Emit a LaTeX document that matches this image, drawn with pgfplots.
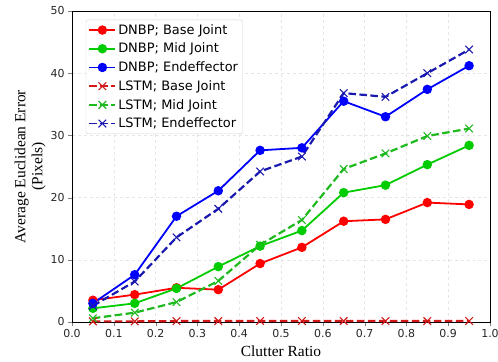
\documentclass[border=0pt]{standalone}
\usepackage{pgfplots}
\pgfplotsset{compat=1.18}
\usetikzlibrary{calc}
\usepackage{fontspec}
\setmainfont{Liberation Serif}
\newfontfamily\dejavu{DejaVu Sans}
\definecolor{dgreen}{RGB}{0,204,0}
\definecolor{lred}{RGB}{210,25,25}
\definecolor{lgreen}{RGB}{30,185,30}
\definecolor{lblue}{RGB}{25,25,175}
\pgfdeclareplotmark{thinx}{%
  \pgfsetlinewidth{1.1pt}\pgfsetdash{}{0pt}%
  \pgfpathmoveto{\pgfpoint{-\pgfplotmarksize}{-\pgfplotmarksize}}%
  \pgfpathlineto{\pgfpoint{\pgfplotmarksize}{\pgfplotmarksize}}%
  \pgfpathmoveto{\pgfpoint{-\pgfplotmarksize}{\pgfplotmarksize}}%
  \pgfpathlineto{\pgfpoint{\pgfplotmarksize}{-\pgfplotmarksize}}%
  \pgfusepathqstroke}
\begin{document}
\begin{tikzpicture}[x=1bp,y=1bp]
\begin{axis}[
  scale only axis, width=418bp, height=311bp,
  xmin=0, xmax=1, ymin=0, ymax=50,
  xtick={0,0.1,...,1.0},
  xticklabels={0.0,0.1,0.2,0.3,0.4,0.5,0.6,0.7,0.8,0.9,1.0},
  ytick={0,10,20,30,40,50},
  tick label style={font=\dejavu\fontsize{11}{12}\selectfont, text=black!85},
  /pgf/number format/assume math mode=true,
  tick align=outside, tick pos=left,
  major tick length=4bp,
  axis line style={line width=0.8pt},
  grid=major, grid style={dashed, gray!20, line width=0.4pt},
  xlabel={Clutter Ratio}, ylabel={Average Euclidean Error\\(Pixels)},
  ylabel style={align=center, font=\fontsize{15.5}{17}\selectfont, yshift=-2bp},
  xlabel style={font=\fontsize{15.5}{17}\selectfont, yshift=-1bp},
  legend style={font=\dejavu\fontsize{13}{15}\selectfont, draw=gray!35, rounded corners=2pt, row sep=3.4pt, inner sep=2.5pt, at={(0.033,0.972)}, anchor=north west},
  legend cell align=left,
  legend image code/.code={\draw[mark repeat=2,mark phase=2,line width=1.8pt,#1] plot coordinates {(0bp,0bp)(13bp,0bp)(26bp,0bp)};},
  lstm/.style={line width=2.2pt, dash pattern=on 7.5bp off 3.5bp, mark=thinx, mark size=3.8pt, mark options={solid}},
]
\coordinate (ll) at (rel axis cs:0,0);
\coordinate (ur) at (rel axis cs:1,1);
\addplot[red, line width=1.8pt, mark=*, mark size=3.8pt] coordinates {(0.05,3.5)(0.15,4.4)(0.25,5.5)(0.35,5.2)(0.45,9.4)(0.55,12.0)(0.65,16.2)(0.75,16.5)(0.85,19.2)(0.95,18.9)};
\addlegendentry{DNBP; Base Joint}
\addplot[dgreen, line width=1.8pt, mark=*, mark size=3.8pt] coordinates {(0.05,2.2)(0.15,3.0)(0.25,5.4)(0.35,8.9)(0.45,12.2)(0.55,14.7)(0.65,20.8)(0.75,22.0)(0.85,25.3)(0.95,28.4)};
\addlegendentry{DNBP; Mid Joint}
\addplot[blue, line width=1.8pt, mark=*, mark size=3.8pt] coordinates {(0.05,3.0)(0.15,7.6)(0.25,17.0)(0.35,21.1)(0.45,27.6)(0.55,28.0)(0.65,35.5)(0.75,33.0)(0.85,37.4)(0.95,41.2)};
\addlegendentry{DNBP; Endeffector}
\addplot[lred, lstm] coordinates {(0.05,0.1)(0.15,0.1)(0.25,0.15)(0.35,0.15)(0.45,0.15)(0.55,0.15)(0.65,0.15)(0.75,0.15)(0.85,0.15)(0.95,0.15)};
\addlegendentry{LSTM; Base Joint}
\addplot[lgreen, lstm] coordinates {(0.05,0.6)(0.15,1.5)(0.25,3.2)(0.35,6.6)(0.45,12.4)(0.55,16.4)(0.65,24.6)(0.75,27.1)(0.85,29.9)(0.95,31.1)};
\addlegendentry{LSTM; Mid Joint}
\addplot[lblue, lstm] coordinates {(0.05,2.6)(0.15,6.5)(0.25,13.6)(0.35,18.2)(0.45,24.2)(0.55,26.6)(0.65,36.8)(0.75,36.2)(0.85,40.0)(0.95,43.8)};
\addlegendentry{LSTM; Endeffector}
\end{axis}
\pgfresetboundingbox
\path ($(ll)+(-72bp,-40bp)$) rectangle ($(ur)+(8bp,11bp)$);
\end{tikzpicture}
\end{document}
